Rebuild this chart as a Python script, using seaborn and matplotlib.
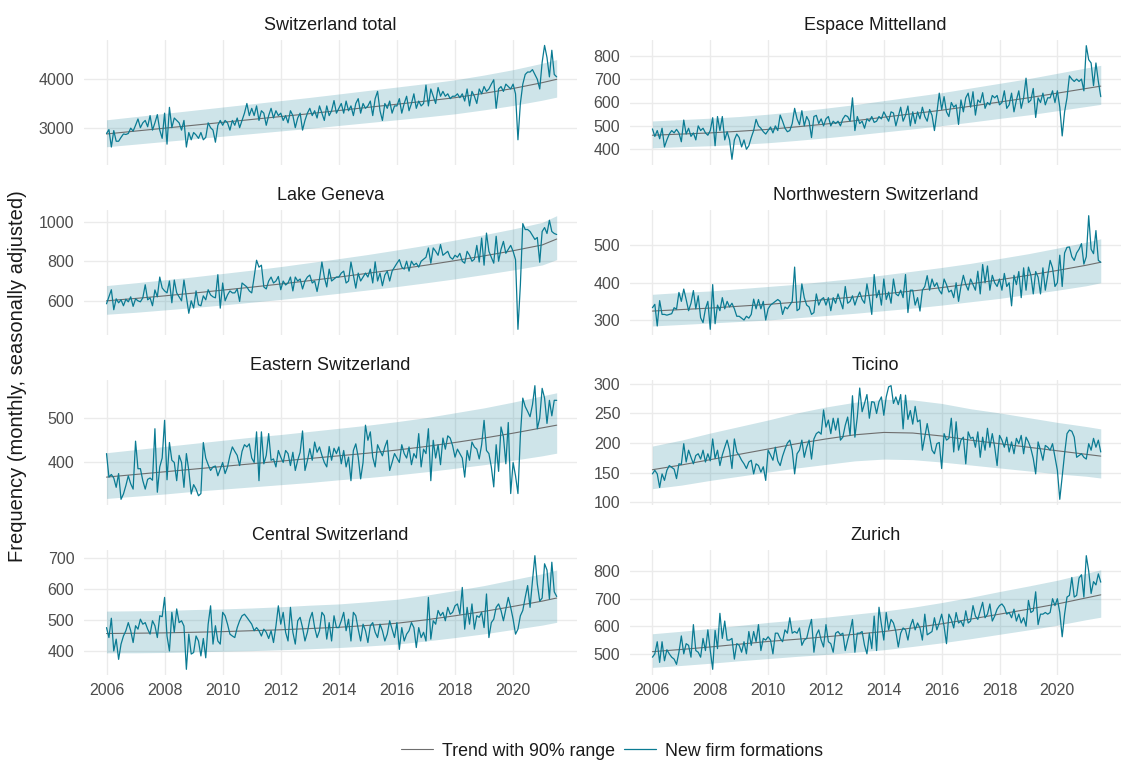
import numpy as np
import pandas as pd
import matplotlib
matplotlib.use("Agg")
import matplotlib.pyplot as plt
from matplotlib.lines import Line2D
import seaborn as sns

# ---------------- data ----------------
START_YEAR = 2006
N_MONTHS = 187  # Jan 2006 .. Jul 2021

total_values = [
    2880, 2960, 2600, 2940, 2720, 2720, 2800, 2870, 2860, 2880, 2990, 2930,
    3050, 3180, 3000, 3100, 3150, 3020, 3250, 2950, 3100, 3270, 2950, 2780,
    3300, 2660, 3420, 3000, 3200, 3150, 3100, 2950, 3150, 2600, 2900, 2750,
    2900, 2850, 2780, 2900, 2750, 2800, 3100, 3000, 2950, 2700, 3050, 3150,
    3050, 3150, 3100, 2950, 3150, 3050, 3200, 3000, 3150, 3300, 3500, 3250,
    3400, 3250, 3450, 3150, 3350, 3300, 3050, 3250, 3400, 3200, 3350, 3250,
    3300, 3150, 3250, 3100, 3350, 3250, 3000, 3200, 3300, 2950, 3150, 3300,
    3400, 3250, 3350, 3200, 3450, 3300, 3150, 3450, 3250, 3350, 3560, 3300,
    3400, 3500, 3300, 3550, 3350, 3450, 3250, 3500, 3600, 3300, 3500, 3400,
    3450, 3550, 3250, 3600, 3750, 3350, 3150, 3500, 3400, 3550, 3300, 3450,
    3450, 3600, 3300, 3500, 3650, 3350, 3500, 3700, 3400, 3550, 3450, 3500,
    3880, 3450, 3800, 3650, 3500, 3830, 3650, 3750, 3650, 3700, 3600, 3650,
    3650, 3700, 3620, 3700, 3550, 3800, 3450, 3750, 3650, 3500, 3800, 3700,
    3850, 3750, 3800, 3900, 3990, 3400, 3800, 3850, 3750, 3900, 3850, 3800,
    3900, 3700, 2750, 3500, 3900, 4100, 4150, 4150, 4200, 4100, 4000, 3800,
    4350, 4700, 4450, 4050, 4600, 4100, 4050,
]
mittelland_values = [
    487, 455, 480, 445, 490, 410, 440, 465, 480, 470, 485, 470,
    432, 525, 465, 490, 455, 470, 440, 500, 480, 490, 470, 460,
    480, 535, 415, 540, 480, 540, 440, 475, 440, 357, 440, 465,
    450, 410, 440, 400, 415, 450, 480, 528, 500, 490, 475, 465,
    480, 495, 470, 500, 480, 546, 520, 490, 475, 480, 510, 575,
    530, 505, 565, 500, 540, 520, 450, 540, 545, 510, 530, 500,
    530, 540, 500, 520, 510, 520, 500, 530, 545, 540, 520, 620,
    480, 540, 510, 520, 490, 530, 520, 540, 515, 520, 540, 530,
    560, 540, 520, 560, 555, 500, 540, 580, 520, 545, 585, 500,
    560, 510, 560, 530, 580, 540, 520, 570, 545, 480, 555, 640,
    570, 625, 560, 540, 600, 580, 590, 506, 611, 560, 620, 640,
    580, 646, 546, 611, 600, 642, 575, 600, 590, 630, 620, 630,
    590, 600, 650, 575, 590, 640, 560, 610, 650, 575, 620, 704,
    600, 610, 660, 536, 620, 600, 640, 590, 620, 620, 650, 600,
    650, 580, 457, 560, 620, 714, 700, 690, 700, 690, 700, 650,
    843, 783, 769, 672, 769, 690, 625,
]
geneva_values = [
    585, 620, 656, 555, 610, 590, 605, 575, 608, 595, 620, 572,
    610, 600, 595, 615, 681, 605, 615, 575, 655, 620, 720, 665,
    650, 640, 700, 590, 705, 640, 620, 600, 705, 620, 537, 600,
    563, 650, 580, 575, 625, 605, 656, 630, 620, 615, 732, 563,
    690, 600, 630, 650, 640, 640, 660, 597, 690, 680, 670, 650,
    640, 720, 805, 770, 780, 670, 660, 700, 720, 690, 700, 723,
    656, 700, 680, 690, 720, 650, 720, 700, 710, 660, 700, 720,
    730, 690, 700, 647, 710, 796, 720, 670, 760, 700, 710, 720,
    720, 740, 750, 690, 700, 796, 730, 664, 740, 700, 720, 740,
    720, 760, 690, 797, 700, 740, 676, 730, 750, 700, 750, 770,
    790, 808, 770, 760, 800, 750, 800, 780, 790, 770, 800, 810,
    820, 867, 790, 867, 850, 830, 884, 830, 840, 850, 820, 810,
    830, 820, 840, 800, 790, 850, 830, 800, 810, 880, 796, 917,
    780, 942, 850, 820, 790, 926, 800, 860, 900, 840, 860, 880,
    850, 808, 456, 680, 990, 960, 960, 950, 930, 910, 920, 795,
    950, 970, 940, 1007, 950, 940, 935,
]
northwest_values = [
    333, 342, 284, 352, 315, 315, 313, 315, 317, 333, 329, 374,
    350, 383, 355, 325, 345, 379, 330, 365, 306, 293, 330, 350,
    275, 395, 290, 340, 325, 360, 330, 350, 335, 345, 330, 310,
    310, 305, 300, 310, 305, 315, 356, 330, 355, 330, 350, 300,
    330, 340, 345, 350, 355, 350, 315, 335, 330, 340, 350, 442,
    325, 330, 397, 360, 340, 335, 315, 320, 370, 340, 355, 360,
    340, 360, 325, 360, 345, 370, 350, 330, 390, 345, 350, 365,
    340, 360, 375, 355, 345, 397, 360, 315, 422, 360, 380, 340,
    410, 355, 375, 345, 410, 370, 365, 380, 360, 422, 320, 380,
    380, 340, 360, 324, 380, 390, 419, 380, 410, 390, 400, 380,
    370, 410, 395, 375, 380, 360, 400, 350, 390, 420, 395, 380,
    410, 395, 380, 431, 370, 449, 400, 445, 380, 420, 400, 390,
    410, 380, 425, 390, 400, 338, 420, 395, 430, 360, 440, 380,
    442, 420, 370, 430, 415, 370, 440, 380, 420, 460, 440, 390,
    400, 474, 390, 480, 495, 496, 470, 460, 480, 490, 505, 450,
    470, 580, 490, 478, 540, 460, 455,
]
eastern_values = [
    420, 367, 373, 365, 344, 375, 317, 329, 348, 370, 352, 340,
    448, 386, 386, 359, 340, 362, 365, 360, 476, 333, 390, 410,
    495, 361, 445, 405, 400, 359, 416, 400, 344, 420, 382, 329,
    350, 340, 325, 330, 445, 410, 395, 382, 390, 392, 370, 385,
    400, 375, 390, 416, 435, 425, 416, 393, 425, 440, 435, 442,
    410, 400, 469, 359, 469, 397, 416, 465, 405, 408, 390, 427,
    412, 400, 427, 420, 393, 423, 382, 405, 423, 471, 382, 404,
    431, 405, 446, 423, 435, 416, 400, 390, 436, 405, 432, 420,
    435, 397, 427, 390, 412, 359, 427, 442, 412, 363, 400, 484,
    450, 469, 412, 390, 440, 427, 415, 435, 450, 382, 400, 420,
    410, 400, 440, 420, 410, 435, 395, 420, 410, 465, 390, 430,
    420, 476, 359, 450, 410, 440, 395, 455, 430, 460, 455, 438,
    412, 430, 420, 410, 367, 427, 405, 446, 435, 430, 408, 440,
    495, 427, 420, 390, 345, 440, 380, 480, 458, 397, 490, 330,
    400, 370, 330, 460, 545, 526, 515, 503, 530, 573, 476, 500,
    567, 545, 488, 540, 505, 540, 540,
]
ticino_values = [
    148, 154, 148, 125, 148, 137, 154, 162, 159, 156, 140, 165,
    164, 199, 168, 188, 176, 165, 179, 182, 173, 188, 168, 182,
    170, 207, 174, 188, 162, 180, 193, 205, 188, 157, 207, 185,
    179, 171, 165, 157, 168, 171, 148, 165, 162, 151, 160, 137,
    188, 180, 171, 193, 170, 162, 178, 190, 200, 205, 188, 148,
    182, 188, 205, 176, 193, 205, 173, 207, 216, 219, 215, 256,
    227, 239, 216, 242, 222, 242, 205, 210, 230, 244, 213, 280,
    210, 244, 293, 253, 267, 282, 242, 270, 269, 250, 270, 278,
    247, 278, 295, 297, 267, 278, 265, 282, 224, 281, 240, 255,
    232, 262, 236, 239, 188, 210, 233, 211, 188, 182, 199, 201,
    157, 216, 205, 208, 242, 185, 236, 188, 205, 210, 165, 219,
    208, 210, 193, 219, 176, 210, 188, 225, 193, 216, 193, 162,
    213, 205, 193, 210, 185, 202, 182, 208, 199, 213, 182, 210,
    202, 191, 174, 148, 202, 188, 171, 196, 193, 188, 199, 176,
    154, 105, 143, 182, 216, 222, 220, 210, 176, 179, 182, 176,
    173, 199, 188, 208, 193, 205, 185,
]
central_values = [
    475, 443, 505, 400, 438, 373, 422, 448, 465, 491, 465, 427,
    481, 470, 502, 486, 491, 470, 454, 497, 481, 443, 513, 510,
    572, 448, 400, 524, 460, 535, 491, 497, 480, 341, 454, 390,
    395, 448, 432, 384, 440, 378, 486, 545, 422, 481, 432, 422,
    524, 513, 486, 454, 448, 443, 475, 497, 513, 518, 508, 497,
    486, 465, 475, 465, 448, 470, 460, 440, 465, 427, 480, 545,
    486, 524, 460, 432, 540, 460, 422, 497, 508, 475, 432, 460,
    502, 524, 475, 443, 465, 524, 513, 438, 491, 432, 513, 475,
    475, 497, 524, 465, 502, 432, 524, 513, 470, 432, 486, 465,
    427, 481, 491, 460, 443, 486, 465, 432, 454, 497, 470, 443,
    491, 405, 475, 432, 454, 465, 491, 475, 411, 475, 443, 460,
    432, 572, 438, 497, 486, 530, 513, 524, 497, 540, 518, 524,
    545, 551, 518, 604, 470, 540, 486, 551, 470, 513, 508, 524,
    475, 583, 443, 491, 502, 540, 551, 530, 497, 535, 572, 540,
    502, 454, 470, 513, 530, 572, 610, 540, 625, 706, 615, 560,
    570, 680, 660, 567, 685, 590, 575,
]
zurich_values = [
    488, 500, 544, 469, 544, 475, 515, 500, 488, 481, 462, 506,
    565, 500, 537, 531, 488, 606, 512, 506, 488, 556, 512, 587,
    512, 444, 585, 519, 647, 556, 619, 550, 550, 556, 481, 537,
    531, 506, 544, 500, 581, 531, 581, 544, 606, 512, 556, 550,
    562, 550, 500, 575, 575, 556, 544, 587, 575, 631, 575, 581,
    575, 594, 531, 550, 556, 594, 625, 506, 569, 587, 550, 525,
    606, 544, 537, 506, 575, 581, 569, 575, 512, 550, 581, 625,
    506, 575, 575, 581, 531, 500, 575, 519, 637, 512, 669, 606,
    550, 650, 587, 625, 612, 581, 525, 575, 594, 587, 550, 600,
    625, 587, 612, 594, 550, 644, 569, 575, 581, 631, 587, 612,
    644, 600, 537, 644, 625, 594, 650, 612, 619, 600, 656, 612,
    619, 675, 637, 625, 656, 687, 631, 644, 681, 619, 637, 662,
    675, 681, 669, 644, 650, 631, 662, 619, 644, 612, 631, 600,
    694, 650, 656, 725, 606, 644, 644, 650, 644, 650, 700, 675,
    700, 650, 562, 644, 706, 712, 777, 706, 712, 775, 787, 706,
    856, 800, 719, 762, 750, 790, 760,
]

# Trend with 90% range, read at yearly knots
knot_years = [2006, 2007, 2008, 2009, 2010, 2011, 2012, 2013, 2014, 2015,
              2016, 2017, 2018, 2019, 2020, 2021, 2021.5]

total_trend = [2870, 2930, 2990, 3050, 3110, 3170, 3230, 3290, 3355, 3420, 3485, 3550, 3620, 3710, 3810, 3930, 4000]
total_upper = [3163, 3229, 3295, 3361, 3427, 3493, 3559, 3626, 3697, 3769, 3840, 3912, 3989, 4088, 4199, 4331, 4408]
total_lower = [2606, 2660, 2715, 2769, 2824, 2878, 2933, 2987, 3046, 3105, 3164, 3223, 3287, 3369, 3459, 3568, 3632]

mittelland_trend = [460, 465, 470, 477, 485, 496, 508, 522, 537, 552, 567, 584, 602, 620, 640, 660, 670]
mittelland_upper = [521, 527, 533, 540, 550, 562, 576, 591, 608, 625, 642, 662, 682, 702, 725, 748, 759]
mittelland_lower = [406, 411, 415, 421, 428, 438, 449, 461, 474, 487, 501, 516, 532, 547, 565, 583, 592]

geneva_trend = [600, 612, 625, 639, 654, 669, 685, 702, 720, 739, 759, 780, 803, 827, 853, 882, 912]
geneva_upper = [677, 691, 706, 721, 738, 755, 773, 793, 813, 834, 857, 881, 907, 934, 963, 996, 1030]
geneva_lower = [532, 542, 554, 566, 579, 593, 607, 622, 638, 655, 672, 691, 711, 733, 756, 781, 808]

northwest_trend = [324, 328, 332, 337, 342, 348, 355, 362, 370, 378, 387, 397, 408, 420, 433, 447, 455]
northwest_upper = [369, 374, 378, 384, 390, 396, 404, 412, 421, 431, 441, 452, 465, 478, 493, 509, 518]
northwest_lower = [284, 288, 292, 296, 300, 306, 312, 318, 325, 332, 340, 349, 358, 369, 380, 392, 400]

eastern_trend = [367, 373, 379, 385, 391, 397, 403, 409, 415, 421, 428, 436, 445, 455, 466, 478, 484]
eastern_upper = [422, 429, 436, 443, 450, 457, 463, 470, 477, 484, 492, 501, 512, 523, 536, 550, 557]
eastern_lower = [319, 324, 329, 335, 340, 345, 350, 355, 361, 366, 372, 379, 387, 395, 405, 415, 421]

ticino_trend = [155, 163, 172, 181, 190, 199, 207, 214, 218, 217, 212, 205, 199, 193, 187, 181, 178]
ticino_upper = [195, 205, 217, 228, 239, 251, 261, 269, 274, 273, 267, 258, 251, 243, 235, 228, 224]
ticino_lower = [123, 129, 137, 144, 151, 158, 164, 170, 173, 172, 168, 163, 158, 153, 148, 144, 141]

central_trend = [456, 457, 458, 460, 462, 465, 468, 472, 476, 482, 489, 500, 513, 527, 543, 560, 570]
central_upper = [528, 529, 530, 533, 535, 538, 542, 547, 551, 558, 566, 579, 594, 610, 629, 648, 660]
central_lower = [394, 394, 395, 397, 399, 401, 404, 407, 411, 416, 422, 432, 443, 455, 469, 483, 492]

zurich_trend = [508, 516, 525, 535, 545, 553, 562, 571, 581, 594, 609, 626, 644, 662, 681, 703, 714]
zurich_upper = [573, 582, 592, 603, 614, 623, 633, 644, 655, 669, 686, 705, 726, 746, 767, 792, 805]
zurich_lower = [451, 458, 466, 475, 483, 491, 498, 506, 515, 527, 540, 555, 571, 587, 604, 624, 633]

panel_titles = ["Switzerland total", "Espace Mittelland", "Lake Geneva",
                "Northwestern Switzerland", "Eastern Switzerland", "Ticino",
                "Central Switzerland", "Zurich"]
panel_yticks = [[3000, 4000], [400, 500, 600, 700, 800], [600, 800, 1000],
                [300, 400, 500], [400, 500], [100, 150, 200, 250, 300],
                [400, 500, 600, 700], [500, 600, 700, 800]]
x_ticks = [2006, 2008, 2010, 2012, 2014, 2016, 2018, 2020]

panels = [
    (total_values, total_trend, total_lower, total_upper),
    (mittelland_values, mittelland_trend, mittelland_lower, mittelland_upper),
    (geneva_values, geneva_trend, geneva_lower, geneva_upper),
    (northwest_values, northwest_trend, northwest_lower, northwest_upper),
    (eastern_values, eastern_trend, eastern_lower, eastern_upper),
    (ticino_values, ticino_trend, ticino_lower, ticino_upper),
    (central_values, central_trend, central_lower, central_upper),
    (zurich_values, zurich_trend, zurich_lower, zurich_upper),
]

# ---------------- style ----------------
sns.set_theme(style="whitegrid")
plt.rcParams["font.family"] = ["Liberation Sans", "DejaVu Sans"]

TEAL = "#0A7B93"
TREND = "#6E6E6E"
GRID = "#EBEBEB"
TXT = "#4D4D4D"

W, H = 1123, 762
fig = plt.figure(figsize=(W / 100, H / 100), dpi=100)
fig.patch.set_facecolor("white")

row_y = [(40, 165), (210, 335), (380, 505), (550, 675)]
col_x = [(84, 577), (630, 1121)]

months = np.arange(N_MONTHS)
x_years = START_YEAR + months / 12.0

for i, (title, (vals, trend, lower, upper)) in enumerate(zip(panel_titles, panels)):
    r, c = divmod(i, 2)
    x0, x1 = col_x[c]
    y0, y1 = row_y[r]
    ax = fig.add_axes([x0 / W, 1 - y1 / H, (x1 - x0) / W, (y1 - y0) / H])
    ax.set_facecolor("white")

    ax.fill_between(knot_years, lower, upper, color=TEAL, alpha=0.2, linewidth=0, zorder=1)
    tdf = pd.DataFrame({"year": knot_years, "trend": trend})
    sns.lineplot(data=tdf, x="year", y="trend", ax=ax, color=TREND, linewidth=0.8,
                 errorbar=None, legend=False, zorder=2)
    ddf = pd.DataFrame({"year": x_years, "value": vals})
    sns.lineplot(data=ddf, x="year", y="value", ax=ax, color=TEAL, linewidth=0.9,
                 errorbar=None, legend=False, zorder=3)

    ax.set_xlim(2005.225, 2022.2)
    ax.margins(y=0.05)
    if i == 0:
        ax.set_ylim(2229, 4812)
    ax.set_xticks(x_ticks)
    ax.set_yticks(panel_yticks[i])
    ax.set_xlabel("")
    ax.set_ylabel("")
    ax.grid(True, color=GRID, linewidth=1.0)
    ax.set_axisbelow(True)
    for s in ax.spines.values():
        s.set_visible(False)
    ax.tick_params(axis="both", length=0, labelsize=11.5, colors=TXT)
    ax.tick_params(axis="y", pad=7)
    ax.tick_params(axis="x", pad=6)
    if r < 3:
        ax.set_xticklabels([])
    ax.set_title(title, fontsize=13, color="#1A1A1A", pad=7)

fig.text(18 / W, 1 - 376 / H, "Frequency (monthly, seasonally adjusted)",
         rotation=90, ha="center", va="center", fontsize=14.5, color="#1A1A1A")

handles = [Line2D([0], [0], color=TREND, lw=0.8),
           Line2D([0], [0], color=TEAL, lw=0.9)]
fig.legend(handles, ["Trend with 90% range", "New firm formations"],
           loc="center", bbox_to_anchor=(612 / W, 1 - 751 / H), ncol=2,
           frameon=False, fontsize=12.8, handlelength=1.8, columnspacing=0.5,
           handletextpad=0.5, labelcolor="#1A1A1A")

fig.savefig("out.png", dpi=100, facecolor="white")
